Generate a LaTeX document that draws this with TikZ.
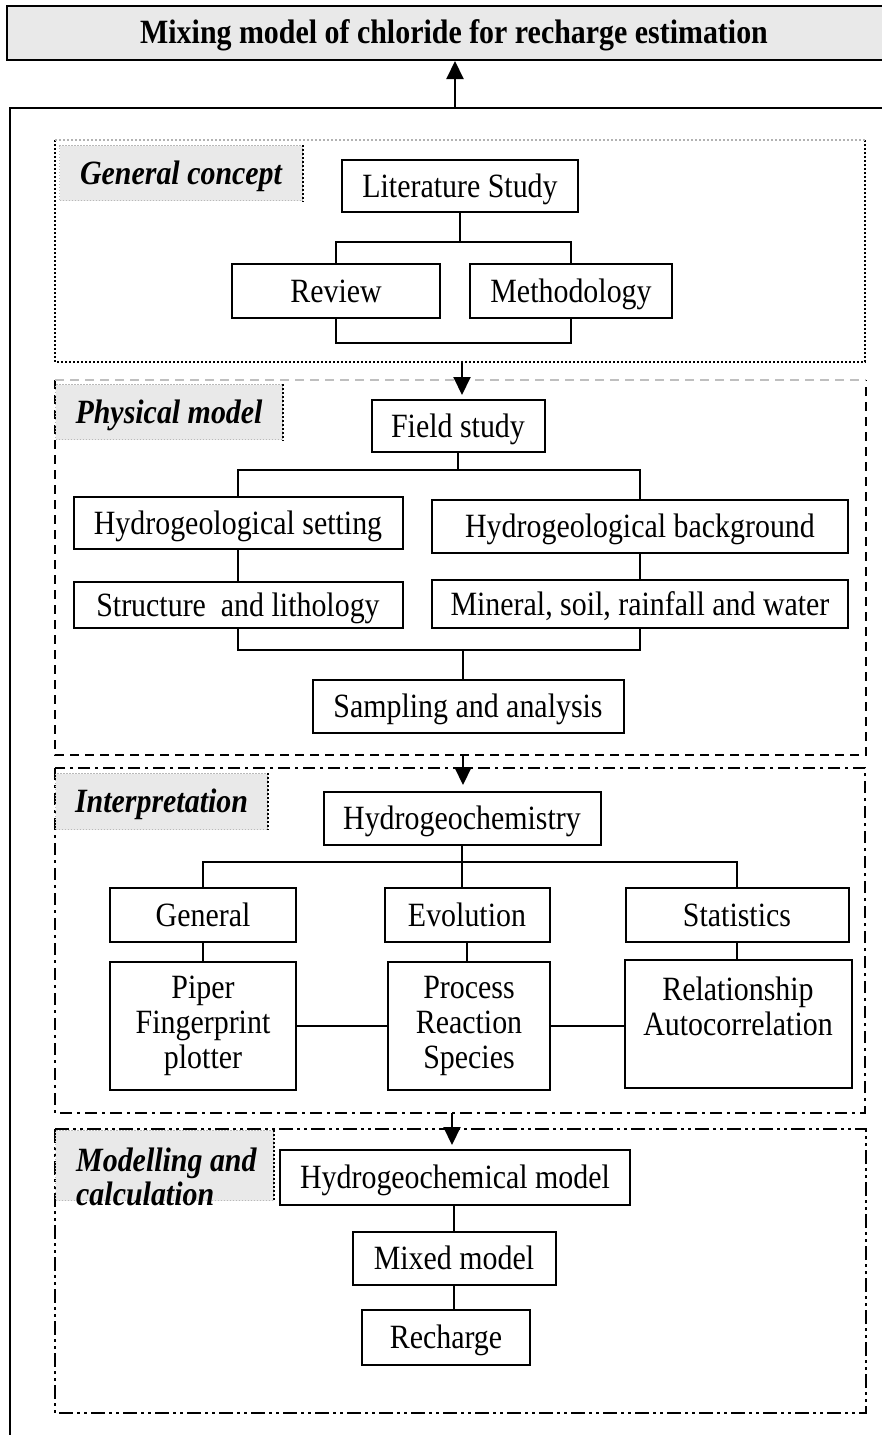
\documentclass[tikz,border=0pt]{standalone}
\usepackage{fontspec}
\setmainfont[FakeStretch=0.88]{Liberation Serif}
\usetikzlibrary{arrows.meta}
\definecolor{labfill}{HTML}{E9E9E9}
\begin{document}
\begin{tikzpicture}[x=1pt,y=-1pt,
  box/.style={draw,line width=2pt,fill=white,inner sep=0pt,font=\fontsize{34}{35}\selectfont,align=center},
  sbox/.style={box,text height=28pt,text depth=6pt},
  conn/.style={line width=2pt},
  arr/.style={line width=2pt,-{Triangle[width=17pt,length=18pt]}},
  lab/.style={draw=gray!55,line width=1.1pt,dash pattern=on 1.5pt off 1.5pt,fill=labfill,inner sep=0pt,font=\fontsize{34}{34}\selectfont\bfseries\itshape,align=left},
  slab/.style={lab,text height=28pt,text depth=6pt},
  labtext/.style={inner sep=0pt,font=\fontsize{34}{34}\selectfont\bfseries\itshape,align=left},
  labedge/.style={line width=2pt,dash pattern=on 2pt off 2pt},
  fdot/.style={line width=2pt,dash pattern=on 2pt off 2pt},
  fdash/.style={line width=2pt,dash pattern=on 9pt off 6pt},
  fdashdot/.style={line width=2pt,dash pattern=on 12pt off 5pt on 3pt off 5pt},
  fdashdotdot/.style={line width=2pt,dash pattern=on 14pt off 4pt on 3pt off 4pt on 3pt off 4pt},
]
\useasboundingbox (0,0) rectangle (882,1435);
\clip (0,0) rectangle (882,1435);

% title
\node[draw,line width=2pt,fill=labfill,minimum width=896pt,minimum height=54pt,inner sep=0pt,anchor=north west] (title) at (6,5) {};
\node[font=\fontsize{34}{34}\selectfont\bfseries,text height=28pt,text depth=6pt,inner sep=0pt] (titletext) at (454,32) {Mixing model of chloride for recharge estimation};

% outer frame
\draw[line width=2pt] (10,1450) -- (10,108) -- (900,108);
\coordinate (up) at (455,108);
\draw[arr] (up) -- (up |- title.south);

% section frames
\draw[fdot] (55,140) -- (55,362) -- (865,362) -- (865,140);
\draw[fdot,gray!60] (55,140) -- (865,140);
\draw[fdash] (55,380) -- (55,755) -- (866,755) -- (866,380);
\draw[fdash,gray!50] (55,380) -- (866,380);
\draw[fdashdot] (55,768) -- (55,1113) -- (865,1113) -- (865,768) -- cycle;
\draw[fdashdotdot] (55,1129) -- (55,1413) -- (866,1413) -- (866,1129) -- cycle;

% labels
\node[slab,minimum width=243pt,minimum height=55pt,anchor=north west] (l1) at (59,145) {General concept};
\draw[labedge] (l1.north east) -- (l1.south east);
\node[slab,minimum width=227pt,minimum height=55pt,anchor=north west] (l2) at (55,384) {Physical model};
\draw[labedge] (l2.north east) -- (l2.south east);
\node[slab,minimum width=212pt,minimum height=56pt,anchor=north west] (l3) at (55,773) {Interpretation};
\draw[labedge] (l3.north east) -- (l3.south east);
\node[lab,minimum width=218pt,minimum height=70pt,anchor=north west] (l4) at (55,1130) {};
\draw[labedge] (l4.north east) -- (l4.south east);
\node[labtext,anchor=base west] (l4a) at (76,1171) {Modelling and};
\node[labtext,anchor=base west] (l4b) at (76,1205) {calculation};

% section 1
\node[sbox,minimum width=236pt,minimum height=52pt] (lit) at (460,186) {Literature Study};
\node[sbox,minimum width=208pt,minimum height=54pt] (rev) at (336,291) {Review};
\node[sbox,minimum width=202pt,minimum height=54pt] (meth) at (571,291) {Methodology};
\coordinate (j1) at (460,242);
\coordinate (j1b) at (460,343);
\draw[conn] (lit.south) -- (j1);
\draw[conn] (rev.north) -- (rev.north |- j1) -- (meth.north |- j1) -- (meth.north);
\draw[conn] (rev.south) -- (rev.south |- j1b) -- (meth.south |- j1b) -- (meth.south);

% arrow 1->2
\coordinate (a1) at (462,362);
\coordinate (a1e) at (462,395);
\draw[arr] (a1) -- (a1e);

% section 2
\node[sbox,minimum width=173pt,minimum height=52pt] (field) at (458,426) {Field study};
\node[sbox,minimum width=329pt,minimum height=52pt] (hset) at (238,523) {Hydrogeological setting};
\node[sbox,minimum width=416pt,minimum height=53pt] (hbg) at (640,526) {Hydrogeological background};
\node[sbox,minimum width=329pt,minimum height=46pt] (struct) at (238,605) {Structure\ \ and lithology};
\node[sbox,minimum width=416pt,minimum height=48pt] (mineral) at (640,604) {Mineral, soil, rainfall and water};
\node[sbox,minimum width=311pt,minimum height=53pt] (samp) at (468,706) {Sampling and analysis};
\coordinate (j2) at (458,470);
\coordinate (j2b) at (463,650);
\draw[conn] (field.south) -- (j2);
\draw[conn] (hset.north) -- (hset.north |- j2) -- (hbg.north |- j2) -- (hbg.north);
\draw[conn] (hset.south) -- (struct.north);
\draw[conn] (hbg.south) -- (mineral.north);
\draw[conn] (struct.south) -- (struct.south |- j2b) -- (mineral.south |- j2b) -- (mineral.south);
\draw[conn] (j2b) -- (j2b |- samp.north);

% arrow 2->3
\coordinate (a2) at (463,755);
\coordinate (a2e) at (463,785);
\draw[arr] (a2) -- (a2e);

% section 3
\node[sbox,minimum width=277pt,minimum height=53pt] (hgc) at (462,818) {Hydrogeochemistry};
\node[sbox,minimum width=186pt,minimum height=54pt] (gen) at (203,915) {General};
\node[sbox,minimum width=165pt,minimum height=54pt] (evo) at (467,915) {Evolution};
\node[sbox,minimum width=223pt,minimum height=54pt] (stat) at (737,915) {Statistics};
\node[box,minimum width=186pt,minimum height=128pt] (piper) at (203,1026) {Piper\\Fingerprint\\plotter};
\node[box,minimum width=162pt,minimum height=128pt] (proc) at (469,1026) {Process\\Reaction\\Species};
\node[box,minimum width=227pt,minimum height=128pt] (rel) at (738,1024) {Relationship\\Autocorrelation\\\mbox{}};
\coordinate (j3) at (462,862);
\draw[conn] (hgc.south) -- (j3);
\draw[conn] (gen.north) -- (gen.north |- j3) -- (stat.north |- j3) -- (stat.north);
\draw[conn] (j3) -- (j3 |- evo.north);
\draw[conn] (gen.south) -- (piper.north);
\draw[conn] (evo.south) -- (evo.south |- proc.north);
\draw[conn] (stat.south) -- (stat.south |- rel.north);
\draw[conn] (piper.east) -- (proc.west);
\draw[conn] (proc.east) -- (proc.east -| rel.west);

% arrow 3->4
\coordinate (a3) at (452,1113);
\coordinate (a3e) at (452,1145);
\draw[arr] (a3) -- (a3e);

% section 4
\node[sbox,minimum width=350pt,minimum height=55pt] (hgm) at (455,1177) {Hydrogeochemical model};
\node[sbox,minimum width=203pt,minimum height=53pt] (mix) at (454,1258) {Mixed model};
\node[sbox,minimum width=168pt,minimum height=55pt] (rech) at (446,1337) {Recharge};
\draw[conn] (hgm.south -| mix.north) -- (mix.north);
\draw[conn] (mix.south) -- (mix.south |- rech.north);
\end{tikzpicture}
\end{document}
